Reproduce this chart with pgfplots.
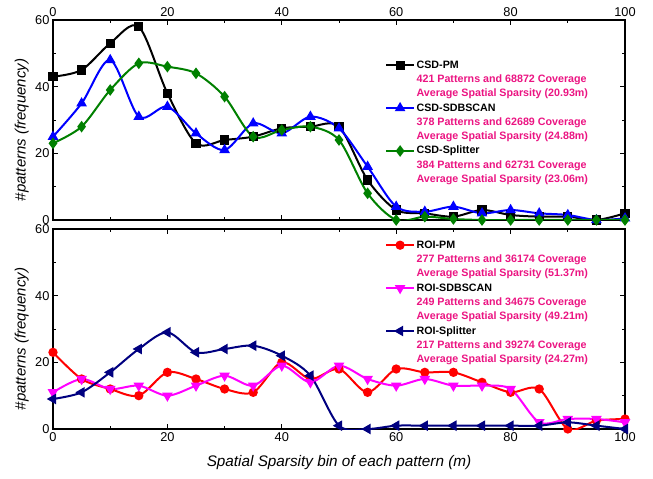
\documentclass[border=0pt]{standalone}
\usepackage{fontspec}
\setmainfont{Liberation Sans}
\usepackage{pgfplots}
\pgfplotsset{compat=1.18}
\definecolor{pinktext}{RGB}{235,20,130}
\definecolor{cgreen}{RGB}{0,128,0}
\definecolor{cnavy}{RGB}{0,0,128}
\definecolor{cmag}{RGB}{255,0,255}
\pgfplotsset{
  panel/.style={
    scale only axis, width=572pt, height=200pt,
    xmin=0,xmax=100,ymin=0,ymax=60,
    xtick={0,20,...,100}, ytick={0,20,40,60},
    minor xtick={10,30,50,70,90}, minor ytick={10,30,50},
    tick align=inside, xtick pos=both, ytick pos=both, yticklabel pos=left,
    major tick length=5pt, minor tick length=3pt,
    every tick/.style={black, line width=0.8pt},
    axis line style={line width=1.2pt},
    tick label style={font=\fontsize{12.8}{14}\selectfont},
    /pgf/number format/assume math mode=true,
    ylabel={\#patterns (frequency)},
    every axis y label/.style={at={(axis description cs:-0.0545,0.45)}, rotate=90, anchor=center, font=\fontsize{15}{17}\selectfont\itshape},
    legend style={draw=none, fill=none, font=\fontsize{10.7}{12}\selectfont\bfseries,
      nodes={inner sep=0.5pt, text height=8.5pt, text depth=2.5pt}, row sep=2.3pt, column sep=1pt},
    legend cell align=left,
    legend image code/.code={\draw[mark repeat=2,mark phase=2,##1] plot coordinates {(0pt,0pt) (14pt,0pt) (28pt,0pt)};},
    every axis plot/.append style={line width=2pt, smooth},
  }
}
\begin{document}
\begin{tikzpicture}
\path[use as bounding box] (0,0) rectangle (653pt,479pt);
\begin{axis}[panel, at={(53pt,259pt)}, anchor=south west, xticklabel pos=upper,
  legend style={at={(0.575,0.815)}, anchor=north west}]
\addplot[black, mark=square*, mark size=3.6, mark options={solid}] coordinates {
(0,43) (5,45) (10,53) (15,58) (20,38) (25,23) (30,24) (35,25) (40,27.5) (45,28) (50,28) (55,12) (60,3) (65,2) (70,1) (75,3) (80,1.5) (85,1) (90,1) (95,0) (100,2)};
\addlegendentry{CSD-PM}
\addlegendimage{empty legend}\addlegendentry{\textcolor{pinktext}{421 Patterns and 68872 Coverage}}
\addlegendimage{empty legend}\addlegendentry{\textcolor{pinktext}{Average Spatial Sparsity (20.93m)}}
\addplot[blue, mark=triangle*, mark size=4.2, mark options={solid}] coordinates {
(0,25) (5,35) (10,48) (15,31) (20,34) (25,26) (30,21) (35,29) (40,26) (45,31) (50,27.5) (55,16) (60,4) (65,2.5) (70,4) (75,2) (80,3) (85,2) (90,1.5) (95,0) (100,0.5)};
\addlegendentry{CSD-SDBSCAN}
\addlegendimage{empty legend}\addlegendentry{\textcolor{pinktext}{378 Patterns and 62689 Coverage}}
\addlegendimage{empty legend}\addlegendentry{\textcolor{pinktext}{Average Spatial Sparsity (24.88m)}}
\addplot[cgreen, mark=diamond*, mark size=4.2, mark options={solid}] coordinates {
(0,23) (5,28) (10,39) (15,47) (20,46) (25,44) (30,37) (35,25) (40,27) (45,28) (50,24) (55,8) (60,0) (65,1) (70,0.3) (75,0) (80,0) (85,0) (90,0) (95,0) (100,0)};
\addlegendentry{CSD-Splitter}
\addlegendimage{empty legend}\addlegendentry{\textcolor{pinktext}{384 Patterns and 62731 Coverage}}
\addlegendimage{empty legend}\addlegendentry{\textcolor{pinktext}{Average Spatial Sparsity (23.06m)}}
\end{axis}
\begin{axis}[panel, at={(53pt,50pt)}, anchor=south west, xticklabel pos=lower,
  xlabel={Spatial Sparsity bin of each pattern (m)},
  every axis x label/.style={at={(axis description cs:0.5,-0.17)}, anchor=center, font=\fontsize{15.3}{17}\selectfont\itshape},
  legend style={at={(0.575,0.96)}, anchor=north west}]
\addplot[red, mark=*, mark size=3.6, mark options={solid}] coordinates {
(0,23) (5,15) (10,12) (15,10) (20,17) (25,15) (30,12) (35,11) (40,20) (45,15) (50,18) (55,11) (60,18) (65,17) (70,17) (75,14) (80,11) (85,12) (90,0) (95,2.5) (100,3)};
\addlegendentry{ROI-PM}
\addlegendimage{empty legend}\addlegendentry{\textcolor{pinktext}{277 Patterns and 36174 Coverage}}
\addlegendimage{empty legend}\addlegendentry{\textcolor{pinktext}{Average Spatial Sparsity (51.37m)}}
\addplot[cmag, mark=triangle*, mark size=4.2, mark options={solid, rotate=180}] coordinates {
(0,11) (5,15) (10,12) (15,13) (20,10) (25,13) (30,16) (35,13) (40,19) (45,14) (50,19) (55,15) (60,13) (65,15) (70,13) (75,13) (80,12) (85,2) (90,3) (95,3) (100,2)};
\addlegendentry{ROI-SDBSCAN}
\addlegendimage{empty legend}\addlegendentry{\textcolor{pinktext}{249 Patterns and 34675 Coverage}}
\addlegendimage{empty legend}\addlegendentry{\textcolor{pinktext}{Average Spatial Sparsity (49.21m)}}
\addplot[cnavy, mark=triangle*, mark size=4.2, mark options={solid, rotate=90}] coordinates {
(0,9) (5,11) (10,17) (15,24) (20,29) (25,23) (30,24) (35,25) (40,22) (45,16) (50,1) (55,0) (60,1) (65,1) (70,1) (75,1) (80,1) (85,1) (90,2) (95,1) (100,0)};
\addlegendentry{ROI-Splitter}
\addlegendimage{empty legend}\addlegendentry{\textcolor{pinktext}{217 Patterns and 39274 Coverage}}
\addlegendimage{empty legend}\addlegendentry{\textcolor{pinktext}{Average Spatial Sparsity (24.27m)}}
\end{axis}
\end{tikzpicture}
\end{document}
